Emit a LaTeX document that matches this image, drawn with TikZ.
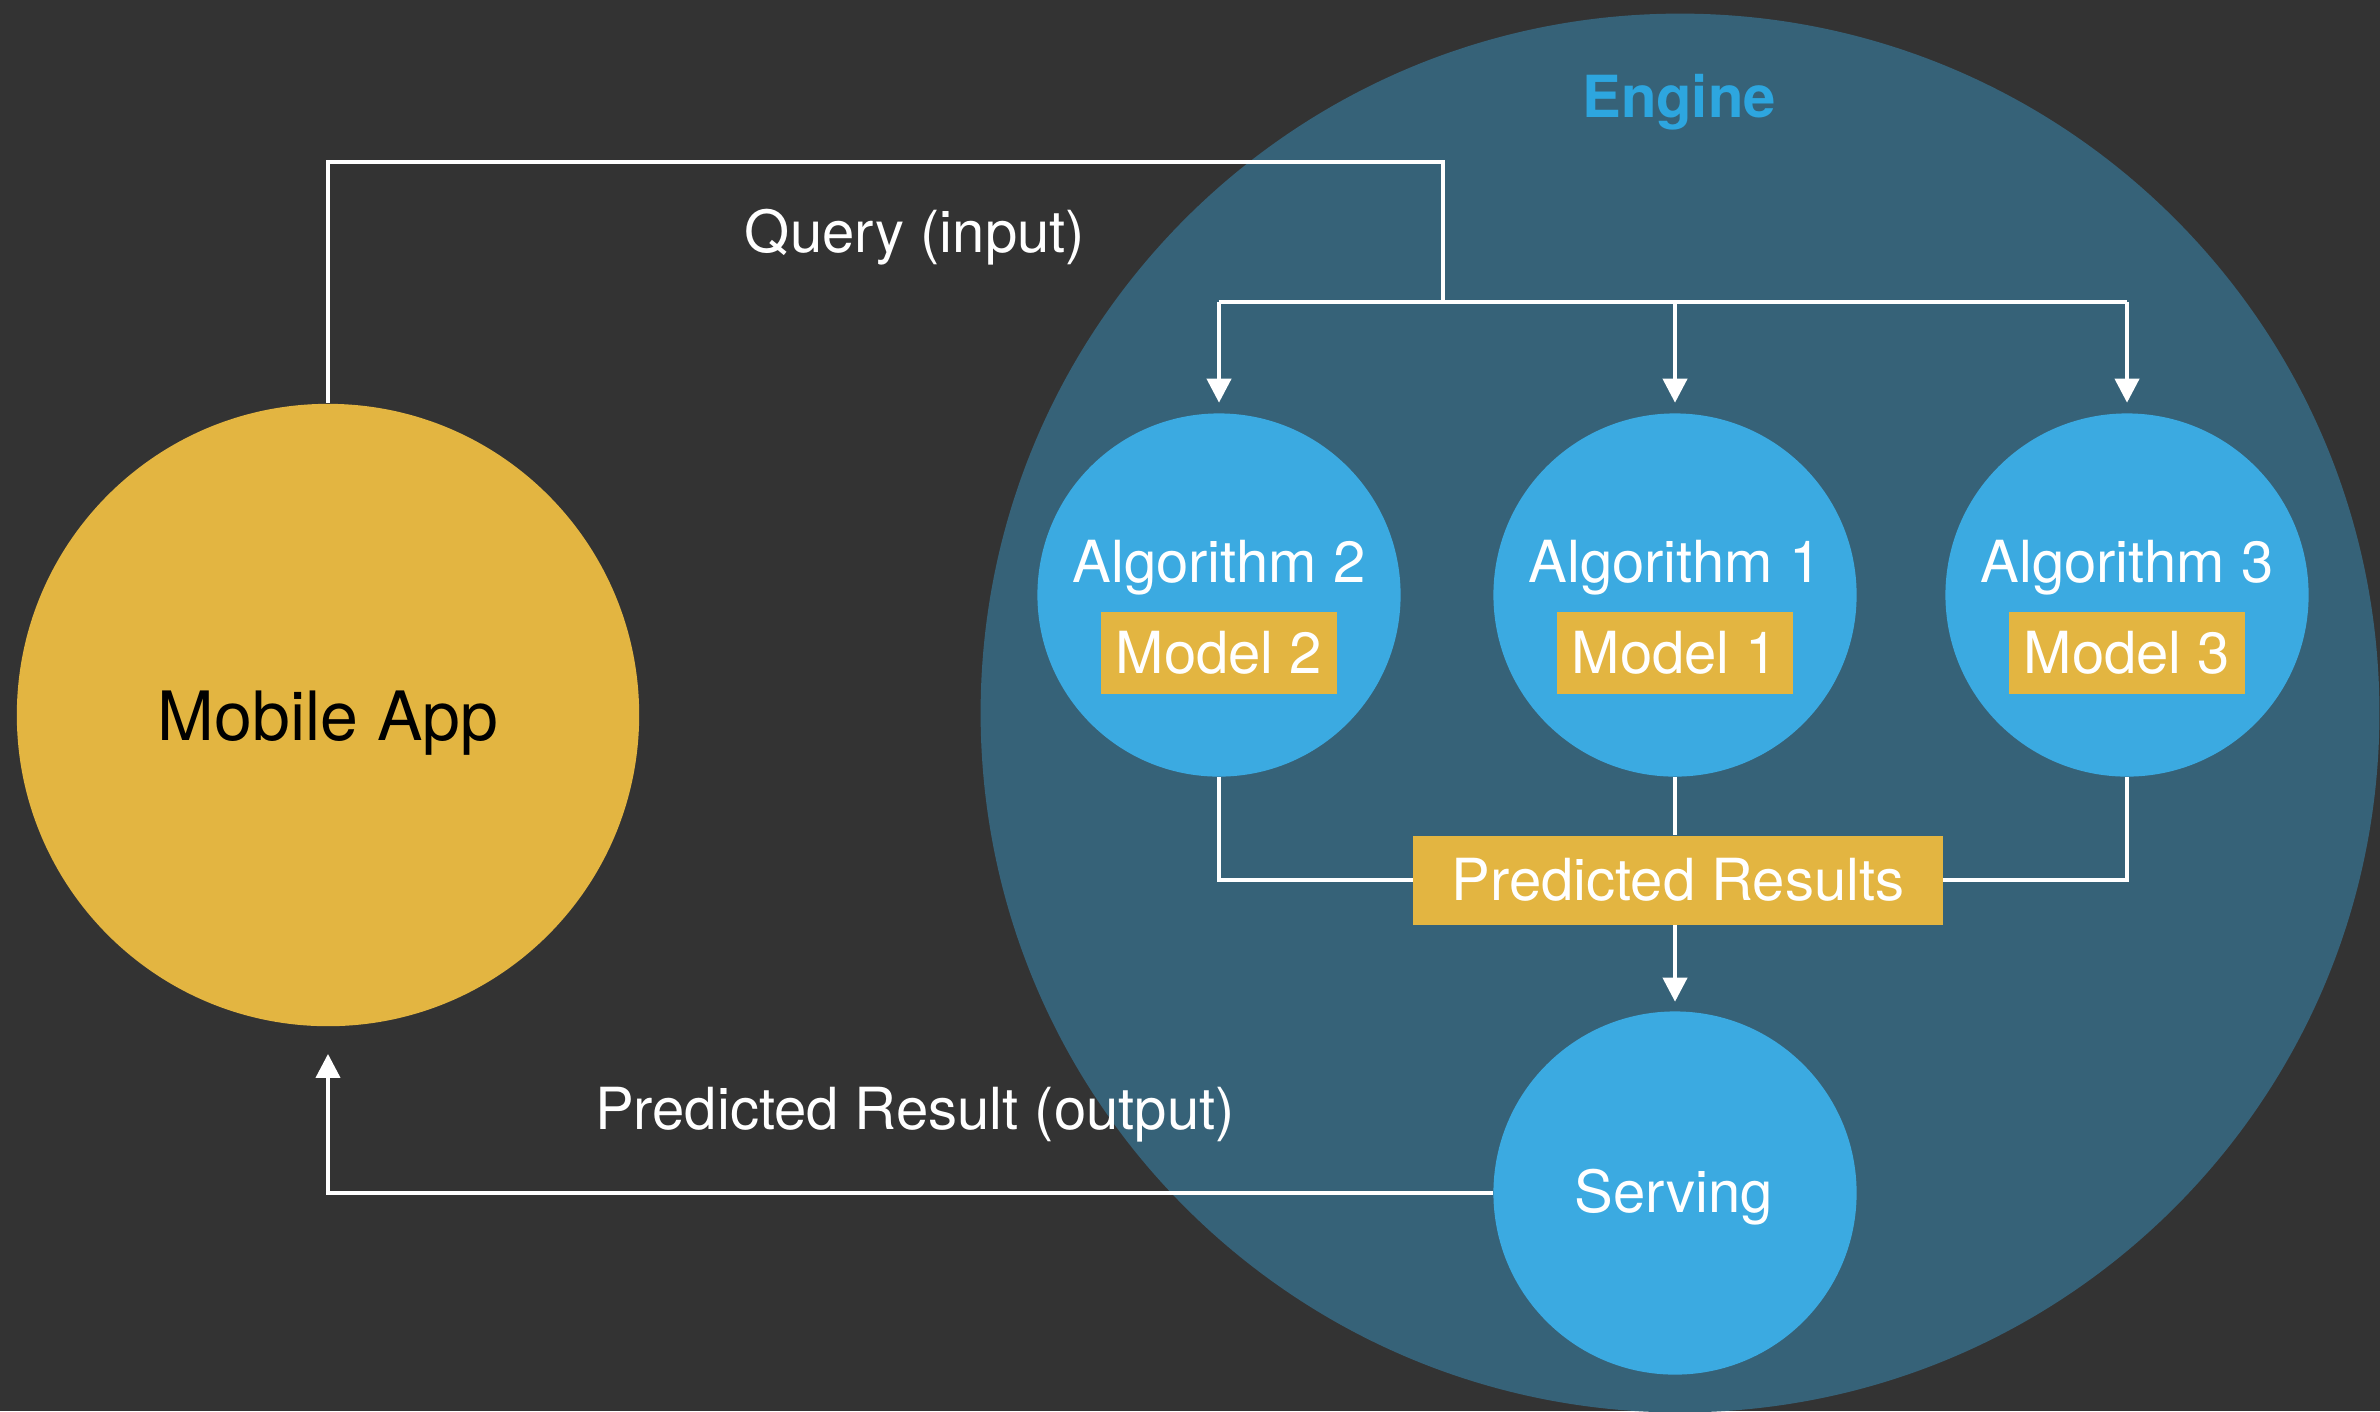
\documentclass[tikz,border=0pt]{standalone}
\usepackage{fontspec}
\setmainfont{TeX Gyre Heros}
\usetikzlibrary{arrows.meta}
\definecolor{bgdark}{HTML}{333333}
\definecolor{enginefill}{HTML}{366278}
\definecolor{algblue}{HTML}{3BAAE1}
\definecolor{gold}{HTML}{E3B541}
\definecolor{enginetext}{HTML}{2DA6DF}
\begin{document}
\begin{tikzpicture}[
  x=0.01cm, y=-0.01cm,
  wire/.style={draw=white, line width=0.04cm},
  arr/.style={wire, -{Triangle[length=0.24cm,width=0.24cm]}},
  lbl/.style={text=white, inner sep=0pt, anchor=base,
              font=\fontsize{16.5}{18}\selectfont},
  algcircle/.style={circle, fill=algblue, minimum size=3.63cm, inner sep=0pt},
  goldbox/.style={fill=gold, text=white, inner sep=0pt,
                  text height=0.416cm, text depth=0pt,
                  font=\fontsize{16.5}{18}\selectfont}
]
% canvas
\useasboundingbox (0,0) rectangle (2380,1411);
\clip (0,0) rectangle (2380,1411);
\fill[bgdark] (0,0) rectangle (2380,1411);

% engine region
\node[circle, fill=enginefill, minimum size=13.98cm, inner sep=0pt] (engine) at (1680,713) {};
\node[lbl, text=enginetext, font=\bfseries\fontsize{16.5}{18}\selectfont] (enginelbl) at (1679,117) {Engine};

% client
\node[circle, fill=gold, minimum size=6.22cm, inner sep=0pt] (app) at (328,715) {};
\node[inner sep=0pt, anchor=base, font=\fontsize{19.35}{22}\selectfont] (applbl) at (328,740) {Mobile App};

% algorithms with their models
\foreach \n/\x in {2/1219, 1/1675, 3/2127} {
  \node[algcircle] (alg\n) at (\x,595) {};
  \node[lbl] (alg\n lbl) at (\x,582) {Algorithm \n};
  \node[goldbox, minimum width=2.35cm, minimum height=0.81cm] (model\n) at (\x,653) {Model \n};
}

% serving
\node[algcircle] (serving) at (1675,1193) {};
\node[lbl] (servinglbl) at (1674,1212) {Serving};

% combined results
\node[goldbox, minimum width=5.29cm, minimum height=0.89cm] (pr) at (1678,880) {Predicted Results};

% query path
\coordinate (qcorner) at (1443,162);
\coordinate (split) at (1443,302);
\draw[wire] (app.north) |- (qcorner) -- (split);
\draw[wire] (alg2.north |- split) -- (alg3.north |- split);
\draw[arr, shorten >=0.1cm] (alg2.north |- split) -- (alg2.north);
\draw[arr, shorten >=0.1cm] (alg1.north |- split) -- (alg1.north);
\draw[arr, shorten >=0.1cm] (alg3.north |- split) -- (alg3.north);
\node[lbl] (querylbl) at (915,252) {Query (input)};

% results path
\draw[wire] (alg2.south) |- (pr.west);
\draw[wire] (alg3.south) |- (pr.east);
\draw[wire] (alg1.south) -- (alg1.south |- pr.north);
\draw[arr, shorten >=0.09cm] (pr.south -| alg1) -- (serving.north);

% output path
\draw[arr, shorten >=0.27cm] (serving.west) -| (app.south);
\node[lbl] (outputlbl) at (915,1129) {Predicted Result (output)};
\end{tikzpicture}
\end{document}
